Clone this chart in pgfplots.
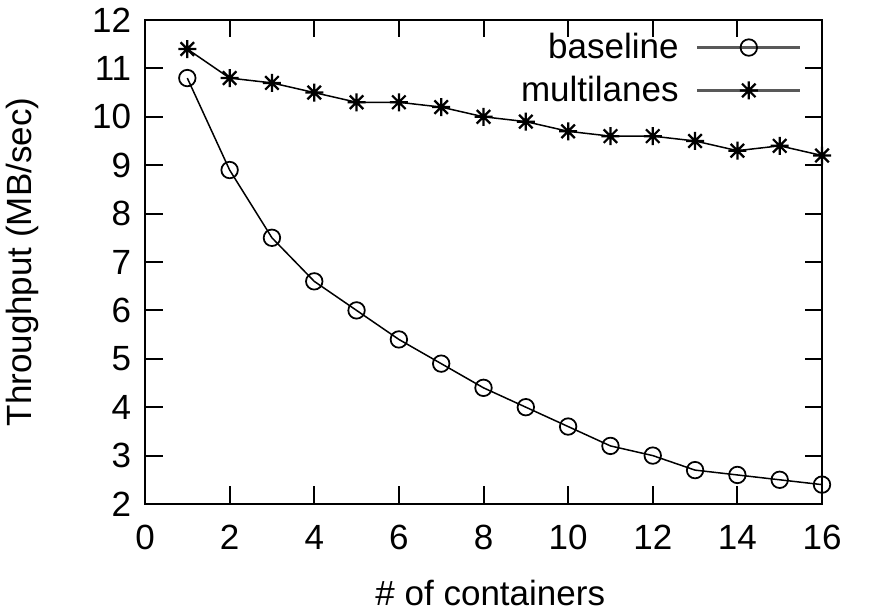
\documentclass[border=0pt]{standalone}
\usepackage{fontspec}
\setmainfont{Liberation Sans}
\usepackage{pgfplots}
\pgfplotsset{compat=1.18}
\newcommand\chartfont{\fontsize{14}{16}\selectfont}
\pgfdeclareplotmark{gstar}{%
  \pgfpathmoveto{\pgfqpoint{-\pgfplotmarksize}{0pt}}%
  \pgfpathlineto{\pgfqpoint{\pgfplotmarksize}{0pt}}%
  \pgfpathmoveto{\pgfqpoint{0pt}{-\pgfplotmarksize}}%
  \pgfpathlineto{\pgfqpoint{0pt}{\pgfplotmarksize}}%
  \pgfpathmoveto{\pgfqpoint{-0.75\pgfplotmarksize}{-0.75\pgfplotmarksize}}%
  \pgfpathlineto{\pgfqpoint{0.75\pgfplotmarksize}{0.75\pgfplotmarksize}}%
  \pgfpathmoveto{\pgfqpoint{-0.75\pgfplotmarksize}{0.75\pgfplotmarksize}}%
  \pgfpathlineto{\pgfqpoint{0.75\pgfplotmarksize}{-0.75\pgfplotmarksize}}%
  \pgfusepathqstroke}
\begin{document}
\begin{tikzpicture}
\begin{axis}[
  name=ax,
  scale only axis,
  width=270.8pt, height=193.6pt,
  xmin=0, xmax=16, ymin=2, ymax=12,
  xtick={0,2,...,16}, ytick={2,3,...,12},
  tick align=inside,
  major tick length=7pt,
  axis line style={line width=0.9pt},
  every tick/.style={black, line width=0.8pt},
  /pgf/number format/assume math mode=true,
  tick label style={font=\chartfont},
  xticklabel style={yshift=-5pt},
  yticklabel style={xshift=-2pt},
  label style={font=\chartfont},
  xlabel={\# of containers},
  ylabel={Throughput (MB/sec)},
  xlabel style={at={(axis description cs:0.51,-0.184)}, anchor=center},
  ylabel style={at={(axis description cs:-0.181,0.5)}, anchor=center},
  legend style={draw=none, fill=none, font=\chartfont, at={(axis description cs:1,1)}, anchor=north east,
    xshift=-5pt, yshift=-1pt, legend cell align=right, row sep=1.5pt, column sep=5pt},
  legend plot pos=right,
  legend image code/.code={\draw[black!65, line width=0.9pt] (0cm,0cm) -- (1.45cm,0cm);
    \draw[mark repeat=2,mark phase=2, draw=none] plot coordinates {(0cm,0cm) (0.725cm,0cm) (1.45cm,0cm)};},
]
\addplot[black, line width=0.6pt, mark=o, mark size=3.3pt, mark options={line width=0.7pt, draw=black}] coordinates {
 (1,10.8) (2,8.9) (3,7.5) (4,6.6) (5,6.0) (6,5.4) (7,4.9) (8,4.4)
 (9,4.0) (10,3.6) (11,3.2) (12,3.0) (13,2.7) (14,2.6) (15,2.5) (16,2.4)};
\addlegendentry{baseline}
\addplot[black, line width=0.6pt, mark=gstar, mark size=3.6pt, mark options={line width=0.9pt, draw=black}] coordinates {
 (1,11.4) (2,10.8) (3,10.7) (4,10.5) (5,10.3) (6,10.3) (7,10.2) (8,10.0)
 (9,9.9) (10,9.7) (11,9.6) (12,9.6) (13,9.5) (14,9.3) (15,9.4) (16,9.2)};
\addlegendentry{multilanes}
\end{axis}
\pgfresetboundingbox
\path[use as bounding box] ([xshift=-58pt,yshift=-43.2pt]ax.south west) rectangle ([xshift=21.2pt,yshift=8pt]ax.north east);
\end{tikzpicture}
\end{document}
